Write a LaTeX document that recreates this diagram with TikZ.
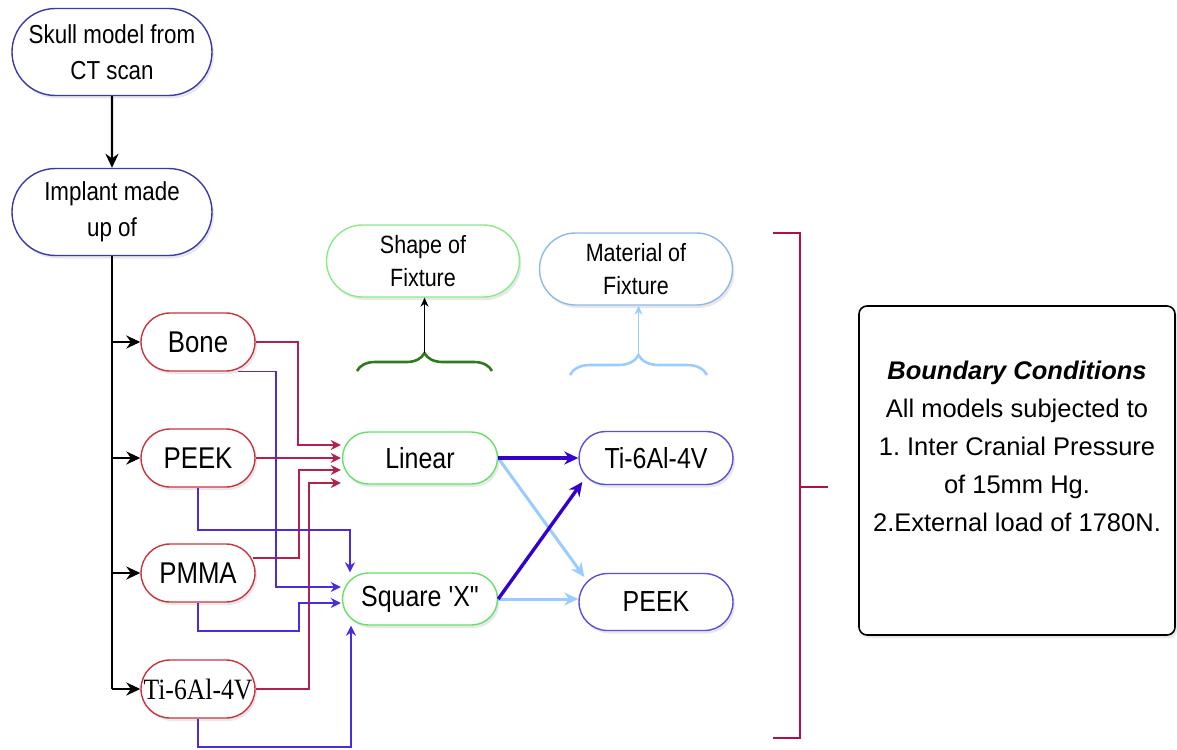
\documentclass[tikz,border=0pt]{standalone}
\usepackage{fontspec}
\setmainfont{Liberation Sans}
\newfontfamily\narrowsans[FakeStretch=0.86]{Liberation Sans}
\newfontfamily\narrowserif[FakeStretch=0.87]{Liberation Serif}
\usetikzlibrary{arrows.meta,shapes.misc,shadows,calc,decorations.pathreplacing}
\frenchspacing

\definecolor{navyedge}{HTML}{3B3BA6}
\definecolor{rededge}{HTML}{CC3340}
\definecolor{greenedge}{HTML}{66E066}
\definecolor{lightgreenedge}{HTML}{8AEA8A}
\definecolor{skyedge}{HTML}{8DB9EC}
\definecolor{violetedge}{HTML}{5A4FDB}
\definecolor{wine}{HTML}{B3204C}
\definecolor{indigoline}{HTML}{4B2BDD}
\definecolor{deepblue}{HTML}{3300CC}
\definecolor{paleblue}{HTML}{99CCFF}
\definecolor{bracegreen}{HTML}{2F7A1F}
\definecolor{bracketred}{HTML}{B0104A}

\tikzset{
  pill/.style={rounded rectangle, draw, fill=white, line width=1.4pt,
    inner sep=0pt, align=center,
    drop shadow={shadow xshift=2pt, shadow yshift=-3pt, opacity=0.18}},
  topbox/.style={pill, draw=navyedge, minimum width=200pt, minimum height=87pt,
    font=\narrowsans\fontsize{26}{36}\selectfont},
  matbox/.style={pill, draw=rededge, minimum width=114pt, minimum height=58pt,
    font=\narrowsans\fontsize{30}{34}\selectfont},
  shapebox/.style={pill, draw=greenedge, minimum width=155pt, minimum height=52pt,
    font=\narrowsans\fontsize{29}{34}\selectfont},
  fixbox/.style={pill, draw=violetedge, minimum width=154pt, minimum height=53pt,
    font=\narrowsans\fontsize{29}{34}\selectfont},
  headbox/.style={pill, minimum width=193pt, minimum height=72pt,
    font=\narrowsans\fontsize{25}{33}\selectfont},
  trunkline/.style={line width=2.4pt, black},
  trunkarrow/.style={trunkline, -{Stealth[length=14pt,width=13pt]}},
  redlink/.style={line width=1.5pt, wine, -{Stealth[length=10pt,width=10pt]}},
  bluelink/.style={line width=1.5pt, indigoline, -{Stealth[length=10pt,width=10pt]}},
  darklink/.style={line width=3.4pt, deepblue, -{Stealth[length=14pt,width=13pt]}},
  palelink/.style={line width=3pt, paleblue, -{Stealth[length=14pt,width=13pt]}},
  bracketline/.style={line width=2.4pt, bracketred},
}

\begin{document}
\begin{tikzpicture}[x=1pt,y=-1pt]
\useasboundingbox (0,0) rectangle (1177,749);

% main flow
\node[topbox] (skull) at (112,52) {Skull model from\\CT scan};
\node[topbox] (implant) at (112,212) {Implant made\\up of};

\node[matbox] (bone)  at (198,342) {Bone};
\node[matbox] (peekL) at (198,458) {PEEK};
\node[matbox] (pmma)  at (198,573) {PMMA};
\node[matbox, font=\narrowserif\fontsize{29.5}{32}\selectfont] (tiL) at (198,689) {Ti-6Al-4V};

\node[shapebox] (linear) at (420,458) {Linear};
\node[shapebox] (square) at (420,599) {Square 'X"};

\node[fixbox] (tiR)   at (656,458) {Ti-6Al-4V};
\node[fixbox, minimum height=57pt] (peekR) at (656,602) {PEEK};

\node[headbox, draw=lightgreenedge] (shape) at (423,261) {Shape of\\Fixture};
\node[headbox, draw=skyedge] (material) at (636,269) {Material of\\Fixture};

% trunk and branches
\draw[trunkarrow] (skull) -- (implant);
\draw[trunkline] (implant.south) -- (implant.south |- tiL.west);
\foreach \m in {bone,peekL,pmma,tiL}
  \draw[trunkarrow] (implant.south |- \m.west) -- (\m.west);

% materials to the linear fixture
\draw[redlink] (bone.east) -| (298,445) -- ($(linear.west)+(-1,-13)$);
\draw[redlink] (peekL.east) -- ($(linear.west)+(-1,0)$);
\draw[redlink] ($(pmma.east)+(-3,-15)$) -| (299,470) -- ($(linear.west)+(-1,12)$);
\draw[redlink] (tiL.east) -| (309,483) -- ($(linear.west)+(-1,25)$);

% materials to the square fixture
\draw[bluelink] ($(bone.south)+(40,0)$) -| (276,587) -- ($(square.west)+(-1,-12)$);
\draw[bluelink] (peekL.south) |- (350,530) -- (square.north -| 350,0);
\draw[bluelink] (pmma.south) |- (299,631) |- ($(square.west)+(-1,4)$);
\draw[bluelink] (tiL.south) |- (351,747) -- (square.south -| 351,0);

% fixture shapes to fixture materials
\draw[palelink] (linear.east) -- ($(peekR.west)+(6,-25)$);
\draw[palelink] (square.east) -- (square.east -| peekR.west);
\draw[darklink] (linear.east) -- (tiR.west);
\draw[darklink] (square.east) -- ($(tiR.west)+(4,24)$);

% braces under the column headings
\draw[bracegreen, line width=2.6pt, decorate, decoration={brace, amplitude=18pt}]
  (357,371) -- (492,371);
\coordinate (gtip) at (424.5,353);
\draw[line width=1pt, black, -{Stealth[length=9pt,width=8pt]}] (gtip) -- (gtip |- shape.south);

\draw[paleblue, line width=2.6pt, decorate, decoration={brace, amplitude=20pt}]
  (570,375) -- (707,375);
\coordinate (btip) at (638.5,355);
\draw[line width=1.8pt, paleblue, -{Stealth[length=9pt,width=8pt]}] (btip) -- (btip |- material.south);

% bracket grouping all models
\draw[bracketline] (773,233) -- (800,233) -- (800,738) -- (773,738);
\coordinate (bmid) at (800,487);
\draw[bracketline] (bmid) -- ++(28,0);

% boundary conditions
\node[draw=black, fill=white, line width=1.6pt, rounded corners=8pt,
  minimum width=316pt, minimum height=329pt, inner sep=0pt,
  drop shadow={shadow xshift=2pt, shadow yshift=-3pt, opacity=0.18}] (bc) at (1017,470.5) {};
\node[align=center, inner sep=0pt, font=\fontsize{25.5}{38}\selectfont] (bctext) at (1017,446)
  {{\bfseries\itshape Boundary Conditions}\\All models subjected to\\1. Inter Cranial Pressure\\of 15mm Hg.\\2.External load of 1780N.};
\end{tikzpicture}
\end{document}
